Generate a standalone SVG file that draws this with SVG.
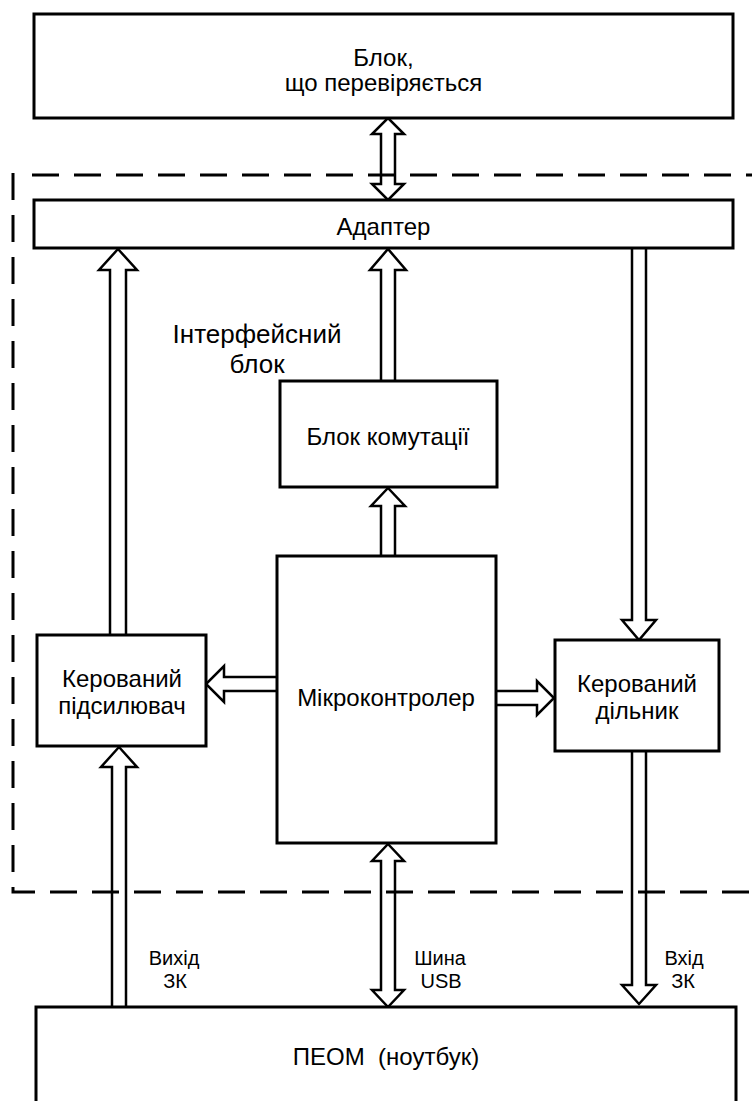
<svg xmlns="http://www.w3.org/2000/svg" width="752" height="1101" viewBox="0 0 752 1101">
  <style>
    .box { fill: #fff; stroke: #000; stroke-width: 3; }
    .arr { fill: #fff; stroke: #000; stroke-width: 2.5; stroke-linejoin: miter; }
    .frame { fill: none; stroke: #000; stroke-width: 3; stroke-dasharray: 27 15; }
    text { font-family: "Liberation Sans", Arial, sans-serif; fill: #000; text-anchor: middle; }
    .t { font-size: 24px; }
    .big { font-size: 26px; }
    .lbl { font-size: 20px; }
  </style>
  <rect width="752" height="1101" fill="#fff"/>

  <!-- connectors: hollow block arrows -->
  <g id="connectors">
    <!-- tested block <-> adapter -->
    <polygon class="arr" points="381,134 372,134 388,118 404,134 395,134 395,184 404,184 388,200 372,184 381,184"/>
    <!-- amplifier -> adapter -->
    <polyline class="arr" points="110,635 110,270 99,270 118,249 137,270 126,270 126,635"/>
    <!-- switching block -> adapter -->
    <polyline class="arr" points="381,381 381,270 370,270 388,249 406,270 395,270 395,381"/>
    <!-- adapter -> divider -->
    <polyline class="arr" points="632,248 632,620 622,620 639,640 656,620 646,620 646,248"/>
    <!-- MCU -> switching block -->
    <polyline class="arr" points="381,556 381,506 371,506 388,488 405,506 395,506 395,556"/>
    <!-- MCU -> amplifier -->
    <polyline class="arr" points="278,677 224,677 224,666 206,684 224,702 224,691 278,691"/>
    <!-- MCU -> divider -->
    <polyline class="arr" points="495,691 537,691 537,681 554,698 537,715 537,705 495,705"/>
    <!-- PC output -> amplifier -->
    <polygon class="arr" points="112,1008 112,767 101,767 119,747 137,767 126,767 126,1008"/>
    <!-- MCU <-> PC (USB) -->
    <polygon class="arr" points="381,861 372,861 388,844 404,861 395,861 395,990 404,990 388,1007 372,990 381,990"/>
    <!-- divider -> PC input -->
    <polyline class="arr" points="632,751 632,985 622,985 639,1004 656,985 646,985 646,751"/>
  </g>

  <!-- interface unit outline -->
  <g id="interface-frame">
    <path class="frame" d="M32,175 H752"/>
    <path class="frame" d="M13,173 V892 H752"/>
    <text class="big" x="257" y="343">Інтерфейсний</text>
    <text class="big" x="257" y="373">блок</text>
  </g>

  <g id="tested-block">
    <rect class="box" x="34" y="14" width="699" height="104"/>
    <text class="t" x="383.5" y="66">Блок,</text>
    <text class="t" x="383.5" y="91">що перевіряється</text>
  </g>

  <g id="adapter">
    <rect class="box" x="34" y="200" width="699" height="48"/>
    <text class="t" x="383.5" y="235">Адаптер</text>
  </g>

  <g id="switching-block">
    <rect class="box" x="280" y="381" width="217" height="106"/>
    <text class="t" x="388" y="445">Блок комутації</text>
  </g>

  <g id="microcontroller">
    <rect class="box" x="277" y="556" width="219" height="287"/>
    <text class="t" x="386" y="706">Мікроконтролер</text>
  </g>

  <g id="amplifier">
    <rect class="box" x="37" y="635" width="169" height="111"/>
    <text class="t" x="122" y="687">Керований</text>
    <text class="t" x="122" y="714">підсилювач</text>
  </g>

  <g id="divider">
    <rect class="box" x="555" y="640" width="164" height="111"/>
    <text class="t" x="637" y="692">Керований</text>
    <text class="t" x="637" y="719">дільник</text>
  </g>

  <g id="pc">
    <rect class="box" x="36" y="1007" width="700" height="110"/>
    <text class="t" x="386" y="1065" xml:space="preserve">ПЕОМ  (ноутбук)</text>
  </g>

  <g id="labels">
    <text class="lbl" x="174" y="965">Вихід</text>
    <text class="lbl" x="175" y="988">ЗК</text>
    <text class="lbl" x="440" y="965">Шина</text>
    <text class="lbl" x="441" y="988">USB</text>
    <text class="lbl" x="684" y="965">Вхід</text>
    <text class="lbl" x="683" y="988">ЗК</text>
  </g>
</svg>
